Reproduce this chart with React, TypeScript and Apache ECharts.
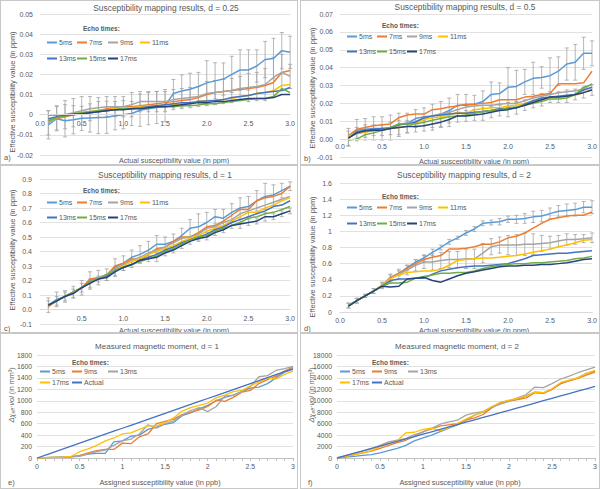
import React, { useEffect, useRef } from "react";
import * as echarts from "echarts";

const FONT = "'Liberation Sans', Arial, Helvetica, sans-serif";
const TXT = "#595959";
const GRID_C = "#D9D9D9";
const ERR_C = "#A3A3A3";

// x positions (actual susceptibility, ppm)
const X_SUSC = [0.1, 0.2, 0.3, 0.4, 0.5, 0.6, 0.7, 0.8, 0.9, 1.0, 1.1, 1.2, 1.3, 1.4, 1.5, 1.6, 1.7, 1.8, 1.9, 2.0, 2.1, 2.2, 2.3, 2.4, 2.5, 2.6, 2.7, 2.8, 2.9, 3.0];
// x positions (assigned susceptibility, ppb)
const X_MOM = [0, 0.1, 0.2, 0.3, 0.4, 0.5, 0.6, 0.7, 0.8, 0.9, 1.0, 1.1, 1.2, 1.3, 1.4, 1.5, 1.6, 1.7, 1.8, 1.9, 2.0, 2.1, 2.2, 2.3, 2.4, 2.5, 2.6, 2.7, 2.8, 2.9, 3.0];

const ECHO_NAMES = ["5ms", "7ms", "9ms", "11ms", "13ms", "15ms", "17ms"];
const ECHO_COLORS = ["#5B9BD5", "#ED7D31", "#A5A5A5", "#FFC000", "#4472C4", "#70AD47", "#264478"];
const MOM_NAMES = ["5ms", "9ms", "13ms", "17ms", "Actual"];
const MOM_COLORS = ["#5B9BD5", "#ED7D31", "#A5A5A5", "#FFC000", "#4472C4"];

// ---- Panel a: d = 0.25
const A_5 = [-0.005, -0.002, -0.003, -0.0025, -0.0018, -0.0016, -0.0014, -0.0013, -0.0005, 0.0, 0.0006, 0.0022, 0.003, 0.0036, 0.0045, 0.0105, 0.0118, 0.0126, 0.014, 0.0158, 0.0168, 0.0177, 0.02, 0.0222, 0.0222, 0.0242, 0.0274, 0.0279, 0.0318, 0.031];
const A_7 = [-0.003, -0.002, -0.001, 0.0, 0.001, 0.0015, 0.002, 0.003, 0.0035, 0.004, 0.004, 0.0045, 0.005, 0.0055, 0.006, 0.0065, 0.007, 0.0075, 0.0085, 0.01, 0.011, 0.0115, 0.012, 0.0125, 0.013, 0.0135, 0.0145, 0.016, 0.021, 0.022];
const A_9 = [-0.004, -0.0015, 0.0, 0.001, 0.002, 0.003, 0.0035, 0.004, 0.004, 0.004, 0.005, 0.0065, 0.0065, 0.0065, 0.0065, 0.0075, 0.008, 0.0085, 0.009, 0.0105, 0.011, 0.0115, 0.012, 0.013, 0.0135, 0.014, 0.015, 0.0185, 0.021, 0.019];
const A_11 = [-0.003, -0.0015, -0.0005, 0.0, 0.001, 0.0015, 0.002, 0.0025, 0.003, 0.0035, 0.0035, 0.004, 0.0045, 0.0045, 0.005, 0.005, 0.0055, 0.006, 0.0065, 0.007, 0.0072, 0.0075, 0.008, 0.009, 0.0095, 0.0105, 0.011, 0.012, 0.0145, 0.015];
const A_13 = [-0.002, -0.001, -0.0005, 0.0, 0.0005, 0.001, 0.0015, 0.002, 0.0025, 0.003, 0.003, 0.0035, 0.004, 0.0045, 0.005, 0.0055, 0.006, 0.006, 0.0065, 0.0068, 0.007, 0.0075, 0.0085, 0.009, 0.0095, 0.0105, 0.011, 0.0115, 0.012, 0.0135];
const A_15 = [-0.003, -0.0015, -0.0005, 0.0005, 0.001, 0.0015, 0.002, 0.0025, 0.0025, 0.003, 0.003, 0.0035, 0.0035, 0.004, 0.004, 0.004, 0.0045, 0.0045, 0.0048, 0.0055, 0.0055, 0.006, 0.0065, 0.007, 0.0075, 0.008, 0.008, 0.009, 0.013, 0.011];
const A_17 = [0.0, 0.0, 0.0, 0.0002, 0.0005, 0.001, 0.0015, 0.002, 0.0025, 0.0025, 0.003, 0.003, 0.0035, 0.004, 0.004, 0.0045, 0.005, 0.0055, 0.006, 0.006, 0.0065, 0.0065, 0.007, 0.0075, 0.008, 0.008, 0.008, 0.0085, 0.01, 0.01];
const A_ERR_5 = [0.007, 0.006, 0.008, 0.007, 0.006, 0.007, 0.008, 0.008, 0.007, 0.007, 0.006, 0.008, 0.008, 0.008, 0.008, 0.007, 0.008, 0.008, 0.007, 0.011, 0.009, 0.008, 0.009, 0.01, 0.01, 0.008, 0.009, 0.01, 0.009, 0.008];
const A_ERR_9 = [0.006, 0.006, 0.007, 0.007, 0.007, 0.006, 0.005, 0.005, 0.005, 0.005, 0.006, 0.005, 0.005, 0.005, 0.005, 0.005, 0.005, 0.005, 0.005, 0.006, 0.006, 0.006, 0.006, 0.006, 0.007, 0.007, 0.008, 0.01, 0.009, 0.006];

// ---- Panel b: d = 0.5
const B_5 = [0.001, 0.005, 0.0055, 0.006, 0.006, 0.0065, 0.008, 0.009, 0.0115, 0.0125, 0.013, 0.014, 0.016, 0.019, 0.019, 0.0195, 0.021, 0.025, 0.0255, 0.029, 0.0295, 0.032, 0.034, 0.0345, 0.0355, 0.038, 0.042, 0.043, 0.048, 0.048];
const B_7 = [0.002, 0.0055, 0.0065, 0.0075, 0.008, 0.0085, 0.012, 0.0135, 0.014, 0.014, 0.0165, 0.017, 0.018, 0.0185, 0.0195, 0.0195, 0.02, 0.0205, 0.022, 0.022, 0.022, 0.0235, 0.024, 0.025, 0.0255, 0.031, 0.031, 0.031, 0.0315, 0.038];
const B_9 = [0.001, 0.003, 0.004, 0.005, 0.0055, 0.006, 0.008, 0.009, 0.01, 0.0115, 0.013, 0.014, 0.015, 0.0165, 0.018, 0.0185, 0.019, 0.019, 0.0195, 0.02, 0.02, 0.0215, 0.023, 0.024, 0.025, 0.026, 0.0265, 0.027, 0.028, 0.031];
const B_11 = [0.0015, 0.004, 0.004, 0.0045, 0.005, 0.006, 0.0065, 0.007, 0.009, 0.011, 0.012, 0.0125, 0.0135, 0.015, 0.0145, 0.0165, 0.017, 0.0175, 0.0175, 0.0185, 0.019, 0.02, 0.0215, 0.022, 0.023, 0.0235, 0.024, 0.0245, 0.026, 0.028];
const B_13 = [0.0005, 0.004, 0.005, 0.0055, 0.006, 0.006, 0.008, 0.0085, 0.0095, 0.012, 0.013, 0.0135, 0.014, 0.0145, 0.0145, 0.015, 0.0155, 0.016, 0.017, 0.017, 0.0175, 0.0195, 0.0215, 0.023, 0.0235, 0.024, 0.0245, 0.025, 0.0275, 0.029];
const B_15 = [-0.0005, 0.0, 0.0025, 0.0035, 0.005, 0.0065, 0.0085, 0.0085, 0.0085, 0.0095, 0.0105, 0.0115, 0.0125, 0.013, 0.0135, 0.0145, 0.0155, 0.016, 0.0165, 0.0175, 0.018, 0.019, 0.02, 0.021, 0.0225, 0.0225, 0.023, 0.025, 0.029, 0.0305];
const B_17 = [0.0005, 0.0035, 0.0045, 0.005, 0.005, 0.006, 0.0065, 0.007, 0.007, 0.0075, 0.0085, 0.0095, 0.011, 0.013, 0.013, 0.0135, 0.014, 0.015, 0.016, 0.0165, 0.0175, 0.019, 0.0205, 0.022, 0.0235, 0.0235, 0.024, 0.025, 0.026, 0.0275];
const B_ERR_5 = [0.005, 0.006, 0.006, 0.0065, 0.0065, 0.007, 0.0065, 0.0055, 0.005, 0.005, 0.0065, 0.007, 0.007, 0.006, 0.006, 0.005, 0.006, 0.007, 0.006, 0.011, 0.009, 0.007, 0.009, 0.006, 0.01, 0.008, 0.009, 0.01, 0.009, 0.007];
const B_ERR_17 = [0.004, 0.003, 0.0035, 0.003, 0.003, 0.0035, 0.004, 0.0035, 0.003, 0.003, 0.0035, 0.003, 0.004, 0.0035, 0.003, 0.003, 0.0035, 0.003, 0.003, 0.004, 0.0035, 0.003, 0.003, 0.0035, 0.003, 0.003, 0.0035, 0.003, 0.003, 0.003];

// ---- Panel c: d = 1
const C_5 = [0.03, 0.07, 0.09, 0.12, 0.15, 0.2, 0.22, 0.24, 0.29, 0.32, 0.36, 0.38, 0.41, 0.45, 0.45, 0.47, 0.51, 0.56, 0.57, 0.6, 0.64, 0.63, 0.67, 0.7, 0.71, 0.75, 0.78, 0.79, 0.82, 0.85];
const C_7 = [0.02, 0.06, 0.09, 0.12, 0.15, 0.21, 0.22, 0.24, 0.3, 0.32, 0.35, 0.34, 0.38, 0.42, 0.43, 0.47, 0.5, 0.5, 0.53, 0.57, 0.58, 0.61, 0.65, 0.69, 0.69, 0.75, 0.77, 0.78, 0.8, 0.85];
const C_9 = [0.03, 0.06, 0.09, 0.12, 0.15, 0.19, 0.22, 0.24, 0.28, 0.31, 0.34, 0.36, 0.39, 0.41, 0.43, 0.46, 0.49, 0.5, 0.52, 0.56, 0.57, 0.6, 0.62, 0.66, 0.68, 0.7, 0.72, 0.74, 0.76, 0.78];
const C_11 = [0.03, 0.06, 0.09, 0.12, 0.15, 0.19, 0.21, 0.23, 0.27, 0.3, 0.33, 0.35, 0.38, 0.4, 0.42, 0.44, 0.47, 0.49, 0.51, 0.54, 0.56, 0.58, 0.61, 0.64, 0.67, 0.67, 0.7, 0.72, 0.75, 0.77];
const C_13 = [0.03, 0.06, 0.09, 0.12, 0.15, 0.19, 0.21, 0.23, 0.27, 0.29, 0.31, 0.34, 0.36, 0.38, 0.41, 0.43, 0.46, 0.48, 0.5, 0.52, 0.55, 0.57, 0.6, 0.62, 0.64, 0.66, 0.68, 0.71, 0.72, 0.75];
const C_15 = [0.03, 0.06, 0.09, 0.12, 0.15, 0.19, 0.21, 0.24, 0.27, 0.29, 0.31, 0.33, 0.35, 0.37, 0.4, 0.42, 0.45, 0.48, 0.5, 0.51, 0.54, 0.56, 0.58, 0.6, 0.63, 0.64, 0.66, 0.67, 0.69, 0.71];
const C_17 = [0.03, 0.06, 0.09, 0.11, 0.15, 0.18, 0.21, 0.22, 0.26, 0.29, 0.31, 0.34, 0.35, 0.36, 0.39, 0.41, 0.44, 0.47, 0.49, 0.5, 0.53, 0.55, 0.58, 0.59, 0.6, 0.61, 0.64, 0.64, 0.66, 0.68];
const C_ERR_5 = [0.05, 0.05, 0.04, 0.04, 0.05, 0.06, 0.05, 0.04, 0.06, 0.05, 0.05, 0.06, 0.06, 0.06, 0.05, 0.05, 0.05, 0.06, 0.09, 0.07, 0.05, 0.06, 0.06, 0.07, 0.07, 0.07, 0.09, 0.07, 0.05, 0.03];
const C_ERR_17 = [0.03, 0.03, 0.03, 0.03, 0.03, 0.03, 0.02, 0.02, 0.03, 0.02, 0.02, 0.02, 0.02, 0.03, 0.02, 0.02, 0.02, 0.02, 0.02, 0.02, 0.02, 0.02, 0.02, 0.03, 0.02, 0.02, 0.03, 0.02, 0.02, 0.02];

// ---- Panel d: d = 2
const D_5 = [0.08, 0.14, 0.2, 0.26, 0.33, 0.42, 0.48, 0.55, 0.62, 0.67, 0.74, 0.8, 0.87, 0.92, 0.98, 1.03, 1.1, 1.11, 1.12, 1.15, 1.15, 1.16, 1.18, 1.19, 1.22, 1.25, 1.26, 1.27, 1.3, 1.3];
const D_7 = [0.08, 0.14, 0.2, 0.26, 0.33, 0.43, 0.48, 0.54, 0.6, 0.65, 0.68, 0.7, 0.78, 0.78, 0.79, 0.81, 0.84, 0.84, 0.87, 0.92, 0.94, 0.98, 1.04, 1.1, 1.15, 1.17, 1.19, 1.2, 1.2, 1.24];
const D_9 = [0.08, 0.14, 0.2, 0.26, 0.33, 0.42, 0.47, 0.52, 0.58, 0.62, 0.62, 0.64, 0.65, 0.65, 0.66, 0.66, 0.73, 0.81, 0.83, 0.83, 0.83, 0.84, 0.84, 0.85, 0.86, 0.88, 0.9, 0.9, 0.91, 0.92];
const D_11 = [0.08, 0.14, 0.2, 0.26, 0.33, 0.41, 0.46, 0.49, 0.5, 0.51, 0.51, 0.53, 0.58, 0.64, 0.65, 0.66, 0.67, 0.67, 0.68, 0.69, 0.7, 0.72, 0.74, 0.76, 0.78, 0.81, 0.83, 0.86, 0.89, 0.9];
const D_13 = [0.08, 0.14, 0.2, 0.26, 0.32, 0.39, 0.41, 0.41, 0.42, 0.42, 0.47, 0.51, 0.53, 0.55, 0.56, 0.57, 0.57, 0.58, 0.59, 0.6, 0.63, 0.66, 0.7, 0.71, 0.72, 0.73, 0.73, 0.74, 0.75, 0.76];
const D_15 = [0.08, 0.14, 0.2, 0.26, 0.32, 0.36, 0.36, 0.37, 0.42, 0.44, 0.46, 0.48, 0.48, 0.49, 0.49, 0.51, 0.54, 0.56, 0.58, 0.59, 0.6, 0.6, 0.61, 0.61, 0.62, 0.63, 0.64, 0.66, 0.67, 0.69];
const D_17 = [0.07, 0.14, 0.2, 0.26, 0.32, 0.31, 0.32, 0.41, 0.42, 0.43, 0.39, 0.37, 0.41, 0.45, 0.48, 0.5, 0.52, 0.54, 0.56, 0.57, 0.57, 0.58, 0.58, 0.59, 0.59, 0.6, 0.61, 0.63, 0.65, 0.66];
const D_ERR_5 = [0.03, 0.03, 0.02, 0.03, 0.03, 0.04, 0.03, 0.03, 0.03, 0.04, 0.04, 0.03, 0.03, 0.02, 0.03, 0.03, 0.03, 0.03, 0.04, 0.04, 0.05, 0.06, 0.07, 0.07, 0.07, 0.07, 0.08, 0.08, 0.07, 0.08];
const D_ERR_9 = [0.03, 0.03, 0.02, 0.03, 0.04, 0.05, 0.06, 0.06, 0.07, 0.08, 0.1, 0.1, 0.1, 0.1, 0.12, 0.12, 0.12, 0.1, 0.1, 0.12, 0.13, 0.14, 0.13, 0.1, 0.08, 0.07, 0.07, 0.06, 0.05, 0.06];

// ---- Panel e: magnetic moment, d = 1
const E_5 = [0, 5, 10, 15, 20, 40, 70, 80, 80, 280, 300, 380, 400, 500, 540, 590, 620, 740, 790, 860, 920, 1000, 1060, 1100, 1160, 1220, 1240, 1300, 1400, 1500, 1550];
const E_9 = [0, 5, 10, 15, 25, 40, 90, 130, 150, 150, 260, 250, 370, 420, 600, 640, 680, 760, 800, 840, 900, 1010, 990, 1060, 1150, 1180, 1300, 1370, 1430, 1520, 1590];
const E_13 = [0, 5, 10, 15, 20, 30, 70, 110, 140, 220, 300, 330, 420, 580, 520, 600, 650, 750, 830, 880, 810, 900, 1080, 1100, 1160, 1250, 1420, 1440, 1530, 1560, 1600];
const E_17 = [0, 5, 10, 15, 30, 110, 160, 220, 300, 350, 420, 440, 500, 560, 560, 620, 700, 820, 880, 920, 960, 1050, 1100, 1160, 1180, 1260, 1330, 1400, 1380, 1460, 1520];
const E_ACT = [0, 52, 104, 156, 208, 260, 312, 364, 416, 468, 520, 572, 624, 676, 728, 780, 832, 884, 936, 988, 1040, 1092, 1144, 1196, 1248, 1300, 1352, 1404, 1456, 1508, 1560];

// ---- Panel f: magnetic moment, d = 2
const F_5 = [0, 150, 300, 450, 600, 900, 1300, 1700, 2200, 3000, 3500, 4000, 4600, 5200, 5800, 6600, 7500, 8000, 8800, 9600, 10000, 10300, 10800, 11500, 11400, 12000, 13000, 13500, 14000, 14800, 15200];
const F_9 = [0, 300, 600, 900, 1200, 1700, 2200, 2700, 3100, 3800, 4600, 5100, 5600, 5800, 6000, 6600, 7000, 7600, 8800, 9700, 10000, 10200, 10500, 11400, 11300, 12000, 13000, 13500, 13900, 14500, 15000];
const F_13 = [0, 400, 800, 1200, 1600, 2200, 2800, 3100, 3400, 4100, 4500, 5200, 5900, 6300, 6600, 7500, 7900, 8100, 8900, 9400, 9900, 10500, 11100, 12400, 12300, 13000, 13800, 14300, 14900, 15400, 15900];
const F_17 = [0, 300, 600, 900, 1300, 2000, 2500, 3000, 4400, 4500, 5000, 5200, 4800, 5300, 6000, 6800, 7500, 8100, 9000, 9700, 10100, 10400, 10800, 11500, 11400, 12100, 13200, 13600, 14000, 14800, 15300];
const F_ACT = [0, 417, 834, 1251, 1668, 2085, 2502, 2919, 3336, 3753, 4170, 4587, 5004, 5421, 5838, 6255, 6672, 7089, 7506, 7923, 8340, 8757, 9174, 9591, 10008, 10425, 10842, 11259, 11676, 12093, 12510];

// ---------------------------------------------------------------------------

function txt(text: string, x: number, y: number, o: any = {}) {
  return {
    type: "text",
    x,
    y,
    rotation: o.rot || 0,
    silent: true,
    style: {
      text,
      fill: TXT,
      fontSize: o.size || 7,
      fontFamily: FONT,
      fontWeight: o.bold ? "bold" : "normal",
      align: o.align || "center",
      textAlign: o.align || "center",
      verticalAlign: "middle",
      textVerticalAlign: "middle",
      rich: o.rich,
    },
  };
}

function errSeries(xs: number[], vals: number[], errs: number[]) {
  return {
    type: "custom",
    silent: true,
    data: xs.map((x, i) => [x, vals[i] - errs[i], vals[i] + errs[i]]),
    encode: { x: 0, y: [1, 2] },
    renderItem: (_p: any, api: any) => {
      const x = api.value(0);
      const lo = api.coord([x, api.value(1)]);
      const hi = api.coord([x, api.value(2)]);
      const st = { stroke: ERR_C, lineWidth: 0.8 };
      return {
        type: "group",
        children: [
          { type: "line", shape: { x1: lo[0], y1: lo[1], x2: hi[0], y2: hi[1] }, style: st },
          { type: "line", shape: { x1: lo[0] - 2, y1: lo[1], x2: lo[0] + 2, y2: lo[1] }, style: st },
          { type: "line", shape: { x1: hi[0] - 2, y1: hi[1], x2: hi[0] + 2, y2: hi[1] }, style: st },
        ],
      };
    },
  };
}

function legendItems(names: string[], rows: { xs: number[]; y: number }[]) {
  const out: any[] = [];
  let k = 0;
  rows.forEach((r) => {
    r.xs.forEach((x) => {
      out.push({
        data: [names[k]],
        left: x,
        top: r.y - 4,
        padding: 0,
        icon: "rect",
        itemWidth: 10,
        itemHeight: 2,
        selectedMode: false,
        textStyle: { fontSize: 7, color: TXT, fontFamily: FONT, padding: [0, 0, 0, -3] },
      });
      k++;
    });
  });
  return out;
}

function suscOption(p: any) {
  const fmtX = (v: number) => (p.hideZeroX && Math.abs(v) < 1e-9 ? "" : v.toFixed(1));
  const gh = p.height - p.grid.top - p.grid.bottom;
  const zeroOffset = -(gh * (0 - p.yMin)) / (p.yMax - p.yMin);
  return {
    animation: false,
    grid: p.grid,
    xAxis: {
      type: "value",
      min: 0,
      max: 3,
      interval: 0.5,
      position: "bottom",
      offset: zeroOffset,
      z: 5,
      axisLine: { onZero: false, lineStyle: { color: GRID_C, width: 1 } },
      axisTick: { show: false },
      splitLine: { show: false },
      axisLabel: { fontSize: 7, color: TXT, fontFamily: FONT, margin: p.xMargin, formatter: fmtX },
    },
    yAxis: {
      type: "value",
      min: p.yMin,
      max: p.yMax,
      interval: p.yInt,
      axisLine: { show: false, onZero: false },
      axisTick: { show: false },
      splitLine: { lineStyle: { color: GRID_C, width: 0.8 } },
      axisLabel: { fontSize: 7, color: TXT, fontFamily: FONT, margin: p.yMargin, formatter: p.yFmt },
    },
    legend: legendItems(ECHO_NAMES, p.legendRows),
    graphic: [
      txt(p.title, p.titlePos[0], p.titlePos[1], { size: 8.4 }),
      txt("Actual susceptibility value (in ppm)", p.xTitlePos[0], p.xTitlePos[1], { size: 7.2 }),
      txt("Effective susceptibility value (in ppm)", p.yTitlePos[0], p.yTitlePos[1], { size: 7.4, rot: Math.PI / 2 }),
      txt(p.letter, p.letterPos[0], p.letterPos[1], { size: 7.5, align: "left" }),
      txt("Echo times:", p.echoPos[0], p.echoPos[1], { size: 6.5, bold: true, align: "left" }),
    ],
    series: [
      ...p.errors.map((e: any) => errSeries(X_SUSC, e[0], e[1])),
      ...p.series.map((d: number[], i: number) => ({
        type: "line",
        name: ECHO_NAMES[i],
        data: X_SUSC.map((x, j) => [x, d[j]]),
        symbol: "none",
        lineStyle: { color: ECHO_COLORS[i], width: 1.5 },
        itemStyle: { color: ECHO_COLORS[i] },
      })),
    ],
  };
}

function momOption(p: any) {
  return {
    animation: false,
    grid: p.grid,
    xAxis: {
      type: "value",
      min: 0,
      max: 3,
      interval: 0.5,
      axisLine: { onZero: false, lineStyle: { color: "#BFBFBF", width: 1 } },
      axisTick: { show: true, length: 3, lineStyle: { color: "#BFBFBF" } },
      minorTick: { show: true, splitNumber: 5, length: 3, lineStyle: { color: "#BFBFBF" } },
      splitLine: { show: false },
      axisLabel: { fontSize: 7, color: TXT, fontFamily: FONT, margin: 5, formatter: (v: number) => String(Math.round(v * 10) / 10) },
    },
    yAxis: {
      type: "value",
      min: 0,
      max: p.yMax,
      interval: p.yInt,
      axisLine: { show: false, onZero: false },
      axisTick: { show: false },
      splitLine: { lineStyle: { color: GRID_C, width: 0.8 } },
      axisLabel: { fontSize: 6.8, color: TXT, fontFamily: FONT, margin: 5, formatter: (v: number) => String(Math.round(v)) },
    },
    legend: legendItems(MOM_NAMES, [
      { xs: [40, 72, 108], y: 39 },
      { xs: [40, 72], y: 50 },
    ]),
    graphic: [
      txt(p.title, 157, 13, { size: 8 }),
      txt("Assigned susceptibility value (in ppb)", 160, 149, { size: 7.4 }),
      txt("{i|Δχ}{s|eff}{i|·vol} (in mm³)", 11, 62, {
        size: 7.2,
        rot: Math.PI / 2,
        rich: {
          i: { fontSize: 7.4, fontStyle: "italic", fill: TXT, fontFamily: FONT },
          s: { fontSize: 5, fontStyle: "italic", fill: TXT, fontFamily: FONT, padding: [3, 0, 0, 0] },
        },
      }),
      txt(p.letter, 8, 149, { size: 7.5, align: "left" }),
      txt("Echo times:", 72, 29, { size: 6.5, bold: true, align: "left" }),
    ],
    series: p.series.map((d: number[], i: number) => ({
      type: "line",
      name: MOM_NAMES[i],
      data: X_MOM.map((x, j) => [x, d[j]]),
      symbol: "none",
      lineStyle: { color: MOM_COLORS[i], width: 1.3 },
      itemStyle: { color: MOM_COLORS[i] },
    })),
  };
}

const f2 = (v: number) => (Math.abs(v) < 1e-9 ? "0" : v.toFixed(2));
const f2z = (v: number) => v.toFixed(2);
const f1 = (v: number) => v.toFixed(1);
const fg = (v: number) => String(Math.round(v * 10) / 10);

const PANELS: { rect: [number, number, number, number]; option: any }[] = [
  {
    rect: [0, 0, 298, 165],
    option: suscOption({
      height: 165,
      grid: { left: 40, right: 6, top: 14, bottom: 10 },
      yMin: -0.02, yMax: 0.05, yInt: 0.01, yFmt: f2, yMargin: 7, xMargin: 5,
      title: "Susceptibility mapping results, d = 0.25", titlePos: [166, 8],
      xTitlePos: [174, 160], yTitlePos: [12, 92], letter: "a)", letterPos: [4, 157],
      echoPos: [83, 28],
      legendRows: [{ xs: [47, 77, 108, 140], y: 43 }, { xs: [47, 77, 108], y: 59 }],
      series: [A_5, A_7, A_9, A_11, A_13, A_15, A_17],
      errors: [[A_5, A_ERR_5], [A_9, A_ERR_9]],
    }),
  },
  {
    rect: [300, 0, 300, 165],
    option: suscOption({
      height: 165,
      grid: { left: 40, right: 8, top: 14, bottom: 8 },
      yMin: -0.01, yMax: 0.07, yInt: 0.01, yFmt: f2z, yMargin: 7, xMargin: 4,
      title: "Susceptibility mapping results, d = 0.5", titlePos: [165, 7],
      xTitlePos: [174, 161], yTitlePos: [12, 88], letter: "b)", letterPos: [4, 158],
      echoPos: [82, 25],
      legendRows: [{ xs: [47, 77, 107, 138], y: 37 }, { xs: [47, 77, 107], y: 52 }],
      series: [B_5, B_7, B_9, B_11, B_13, B_15, B_17],
      errors: [[B_5, B_ERR_5], [B_17, B_ERR_17]],
    }),
  },
  {
    rect: [0, 165, 298, 168],
    option: suscOption({
      height: 168,
      grid: { left: 40, right: 6, top: 14, bottom: 9 },
      yMin: -0.1, yMax: 0.9, yInt: 0.1, yFmt: f1, yMargin: 8, xMargin: 5, hideZeroX: true,
      title: "Susceptibility mapping results, d = 1", titlePos: [165, 10],
      xTitlePos: [174, 165], yTitlePos: [12, 85], letter: "c)", letterPos: [4, 163],
      echoPos: [83, 25],
      legendRows: [{ xs: [47, 77, 108, 140], y: 38 }, { xs: [47, 77, 108], y: 53 }],
      series: [C_5, C_7, C_9, C_11, C_13, C_15, C_17],
      errors: [[C_5, C_ERR_5], [C_17, C_ERR_17]],
    }),
  },
  {
    rect: [300, 165, 300, 168],
    option: suscOption({
      height: 168,
      grid: { left: 40, right: 8, top: 18, bottom: 21 },
      yMin: 0, yMax: 1.6, yInt: 0.2, yFmt: fg, yMargin: 8, xMargin: 5,
      title: "Susceptibility mapping results, d = 2", titlePos: [164, 10],
      xTitlePos: [174, 165], yTitlePos: [12, 92], letter: "d)", letterPos: [4, 163],
      echoPos: [82, 31],
      legendRows: [{ xs: [47, 77, 107, 138], y: 43 }, { xs: [47, 77, 107], y: 59 }],
      series: [D_5, D_7, D_9, D_11, D_13, D_15, D_17],
      errors: [[D_5, D_ERR_5], [D_9, D_ERR_9]],
    }),
  },
  {
    rect: [0, 333, 298, 156],
    option: momOption({
      grid: { left: 37, right: 3, top: 22, bottom: 31 },
      yMax: 1800, yInt: 200,
      title: "Measured magnetic moment, d = 1", letter: "e)",
      series: [E_5, E_9, E_13, E_17, E_ACT],
    }),
  },
  {
    rect: [300, 333, 300, 156],
    option: momOption({
      grid: { left: 37, right: 5, top: 22, bottom: 31 },
      yMax: 18000, yInt: 2000,
      title: "Measured magnetic moment, d = 2", letter: "f)",
      series: [F_5, F_9, F_13, F_17, F_ACT],
    }),
  },
];

export default function App() {
  const refs = useRef<(HTMLDivElement | null)[]>([]);
  useEffect(() => {
    const charts = PANELS.map((p, i) => {
      const c = echarts.init(refs.current[i] as HTMLDivElement, undefined, { renderer: "svg" });
      c.setOption(p.option);
      return c;
    });
    return () => charts.forEach((c) => c.dispose());
  }, []);
  return (
    <div style={{ position: "fixed", left: 0, top: 0, width: 600, height: 489, background: "#fff", overflow: "hidden" }}>
      {PANELS.map((p, i) => (
        <div
          key={"c" + i}
          ref={(el) => {
            refs.current[i] = el;
          }}
          style={{ position: "absolute", left: p.rect[0], top: p.rect[1], width: p.rect[2], height: p.rect[3] }}
        />
      ))}
      {PANELS.map((p, i) => (
        <div
          key={"b" + i}
          style={{
            position: "absolute",
            left: p.rect[0],
            top: p.rect[1],
            width: p.rect[2],
            height: p.rect[3],
            border: "1px solid #C8C8C8",
            boxSizing: "border-box",
            pointerEvents: "none",
          }}
        />
      ))}
    </div>
  );
}
